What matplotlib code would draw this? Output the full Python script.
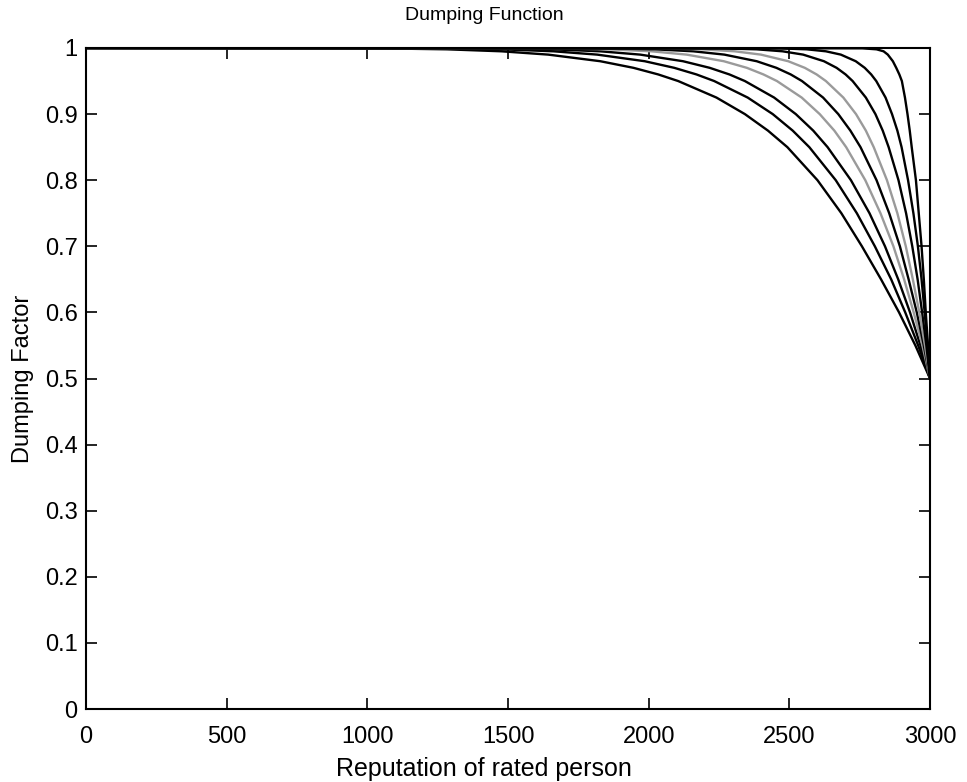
import matplotlib
matplotlib.use("Agg")
import matplotlib.pyplot as plt

levels = [1.0, 0.9995, 0.998, 0.995, 0.99, 0.98, 0.97, 0.96, 0.95, 0.925, 0.90,
          0.875, 0.85, 0.80, 0.75, 0.70, 0.65, 0.60, 0.55, 0.50]

# x positions (reputation) where each curve crosses the levels above
curve1 = [0, 1037, 1283, 1477, 1643, 1828, 1946, 2034, 2105, 2241, 2342,
          2424, 2493, 2600, 2685, 2758, 2826, 2890, 2948, 3000]
curve2 = [0, 1238, 1478, 1662, 1817, 1986, 2091, 2170, 2233, 2352, 2441,
          2512, 2571, 2665, 2740, 2804, 2862, 2912, 2958, 3000]
curve3 = [0, 1427, 1657, 1828, 1970, 2122, 2217, 2287, 2342, 2446, 2523,
          2585, 2636, 2719, 2785, 2840, 2887, 2929, 2966, 3000]
curve4 = [0, 1645, 1856, 2010, 2135, 2267, 2349, 2408, 2456, 2544, 2608,
          2660, 2702, 2770, 2824, 2870, 2908, 2942, 2973, 3000]
curve5 = [0, 1831, 2022, 2159, 2269, 2384, 2454, 2505, 2545, 2620, 2674,
          2717, 2753, 2810, 2855, 2893, 2924, 2953, 2978, 3000]
curve6 = [0, 2022, 2188, 2306, 2399, 2496, 2555, 2597, 2630, 2692, 2737,
          2772, 2800, 2847, 2884, 2914, 2939, 2962, 2982, 3000]
curve7 = [0, 2250, 2384, 2476, 2549, 2623, 2668, 2700, 2725, 2772, 2806,
          2832, 2853, 2888, 2915, 2937, 2956, 2972, 2987, 3000]
curve8 = [0, 2463, 2562, 2630, 2683, 2736, 2768, 2791, 2809, 2842, 2865,
          2884, 2899, 2922, 2941, 2957, 2970, 2981, 2991, 3000]
curve9 = [0, 2760, 2810, 2835, 2850, 2868, 2880, 2891, 2900, 2911, 2920,
          2928, 2935, 2950, 2960, 2970, 2978, 2985, 2993, 3000]

curves = [curve1, curve2, curve3, curve4, curve5, curve6, curve7, curve8, curve9]
colors = ["black", "black", "black", "#9a9a9a", "black", "#9a9a9a", "black", "black", "black"]

xticks = [0, 500, 1000, 1500, 2000, 2500, 3000]
yticks = [0, 0.1, 0.2, 0.3, 0.4, 0.5, 0.6, 0.7, 0.8, 0.9, 1.0]
ytick_labels = ["0", "0.1", "0.2", "0.3", "0.4", "0.5", "0.6", "0.7", "0.8", "0.9", "1"]

plt.rcParams["font.family"] = ["Liberation Sans", "DejaVu Sans"]

fig = plt.figure(figsize=(9.67, 7.82), dpi=100)
ax = fig.add_axes([86 / 967, 1 - 709 / 782, (930 - 86) / 967, (709 - 48) / 782])

for xs, c in zip(curves, colors):
    ax.plot(xs, levels, color=c, lw=1.7, solid_joinstyle="round")

ax.set_xlim(0, 3000)
ax.set_ylim(0, 1)
ax.set_xticks(xticks)
ax.set_xticklabels([str(t) for t in xticks])
ax.set_yticks(yticks)
ax.set_yticklabels(ytick_labels)
ax.tick_params(direction="in", length=8, width=1.2, top=True, right=True,
               labelsize=17)
ax.tick_params(axis="x", pad=12)
ax.tick_params(axis="y", pad=6)
for s in ax.spines.values():
    s.set_linewidth(1.5)

ax.set_title("Dumping Function", fontsize=14, pad=20, x=0.472)
ax.set_xlabel("Reputation of rated person", fontsize=18, labelpad=7, x=0.472)
ax.set_ylabel("Dumping Factor", fontsize=17, labelpad=8)

fig.savefig("out.png", dpi=100, facecolor="white")
